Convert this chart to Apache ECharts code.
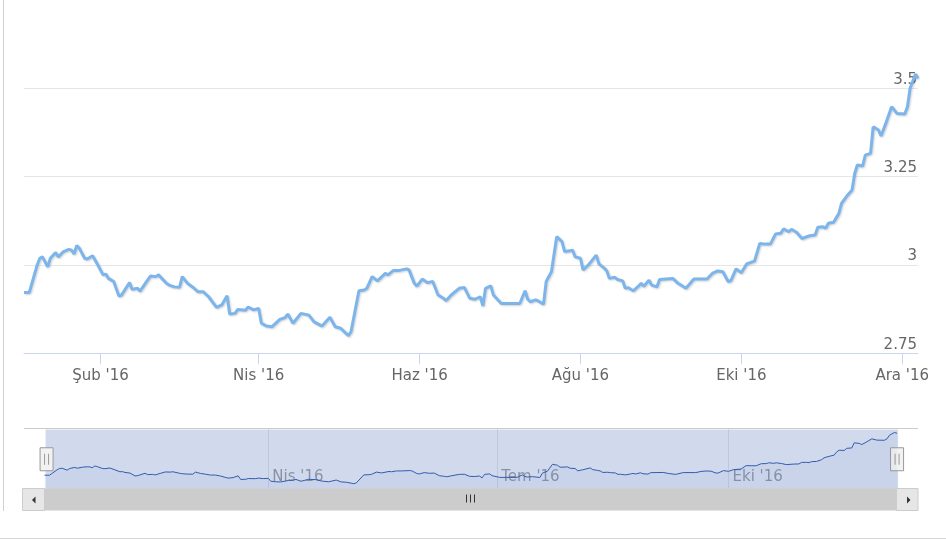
<!DOCTYPE html>
<html><head><meta charset="utf-8">
<script src="https://cdn.jsdelivr.net/npm/echarts@6/dist/echarts.min.js"></script>
<style>
html,body{margin:0;padding:0;background:#fff;}
#chart{position:absolute;left:0;top:0;width:946px;height:543px;}
.frameL{position:absolute;left:3px;top:0;width:1px;height:511px;background:#d0d0d0;}
.frameB{position:absolute;left:0;top:538px;width:946px;height:1px;background:#d6d6d6;}
</style>
</head><body>
<div class="frameL"></div><div class="frameB"></div>
<div id="chart"></div>
<script>
const dates = ['2016-01-03','2016-01-05','2016-01-06','2016-01-08','2016-01-09','2016-01-10','2016-01-12','2016-01-13','2016-01-15','2016-01-16',
'2016-01-18','2016-01-20','2016-01-21','2016-01-22','2016-01-23','2016-01-24','2016-01-26','2016-01-27','2016-01-29','2016-01-31',
'2016-02-02','2016-02-03','2016-02-04','2016-02-06','2016-02-08','2016-02-09','2016-02-12','2016-02-13','2016-02-15','2016-02-16',
'2016-02-18','2016-02-20','2016-02-22','2016-02-23','2016-02-26','2016-02-27','2016-02-29','2016-03-02','2016-03-03','2016-03-05',
'2016-03-07','2016-03-09','2016-03-11','2016-03-13','2016-03-16','2016-03-18','2016-03-20','2016-03-21','2016-03-23','2016-03-24',
'2016-03-27','2016-03-28','2016-03-30','2016-04-01','2016-04-02','2016-04-04','2016-04-06','2016-04-09','2016-04-11','2016-04-12',
'2016-04-14','2016-04-17','2016-04-20','2016-04-22','2016-04-25','2016-04-28','2016-04-30','2016-05-02','2016-05-05','2016-05-06',
'2016-05-09','2016-05-11','2016-05-12','2016-05-14','2016-05-16','2016-05-19','2016-05-20','2016-05-22','2016-05-24','2016-05-27',
'2016-05-28','2016-05-30','2016-05-31','2016-06-02','2016-06-04','2016-06-06','2016-06-08','2016-06-10','2016-06-11','2016-06-13',
'2016-06-16','2016-06-18','2016-06-20','2016-06-22','2016-06-24','2016-06-25','2016-06-26','2016-06-28','2016-06-29','2016-07-01',
'2016-07-02','2016-07-09','2016-07-11','2016-07-12','2016-07-13','2016-07-15','2016-07-16','2016-07-18','2016-07-19','2016-07-21',
'2016-07-23','2016-07-25','2016-07-26','2016-07-28','2016-07-29','2016-07-30','2016-08-01','2016-08-02','2016-08-04','2016-08-07',
'2016-08-08','2016-08-10','2016-08-11','2016-08-12','2016-08-14','2016-08-15','2016-08-17','2016-08-18','2016-08-19','2016-08-21',
'2016-08-23','2016-08-24','2016-08-25','2016-08-27','2016-08-28','2016-08-30','2016-08-31','2016-09-05','2016-09-07','2016-09-10',
'2016-09-13','2016-09-18','2016-09-20','2016-09-22','2016-09-24','2016-09-26','2016-09-27','2016-09-29','2016-10-01','2016-10-03',
'2016-10-06','2016-10-08','2016-10-10','2016-10-12','2016-10-14','2016-10-16','2016-10-17','2016-10-19','2016-10-20','2016-10-22',
'2016-10-24','2016-10-27','2016-10-29','2016-10-30','2016-11-01','2016-11-02','2016-11-03','2016-11-05','2016-11-07','2016-11-08',
'2016-11-10','2016-11-12','2016-11-13','2016-11-14','2016-11-16','2016-11-17','2016-11-19','2016-11-20','2016-11-22','2016-11-23',
'2016-11-25','2016-11-27','2016-11-29','2016-12-02','2016-12-03','2016-12-04','2016-12-06','2016-12-07'];
const values = [2.922,2.922,2.948,3.000,3.019,3.023,2.995,3.019,3.035,3.023,
3.038,3.044,3.042,3.031,3.055,3.047,3.019,3.017,3.026,3.000,
2.972,2.974,2.962,2.953,2.912,2.915,2.950,2.931,2.934,2.926,
2.948,2.969,2.967,2.972,2.948,2.943,2.938,2.937,2.967,2.948,
2.937,2.924,2.924,2.910,2.880,2.887,2.913,2.861,2.863,2.874,
2.872,2.881,2.873,2.877,2.835,2.827,2.825,2.846,2.851,2.861,
2.835,2.863,2.858,2.839,2.827,2.852,2.825,2.821,2.800,2.811,
2.927,2.929,2.934,2.967,2.955,2.976,2.972,2.984,2.984,2.989,
2.986,2.948,2.940,2.960,2.950,2.953,2.915,2.906,2.899,2.915,
2.934,2.936,2.906,2.903,2.910,2.884,2.934,2.941,2.915,2.899,
2.891,2.891,2.927,2.903,2.896,2.901,2.898,2.889,2.953,2.981,
3.080,3.066,3.038,3.040,3.042,3.023,3.019,2.986,3.000,3.028,
3.003,2.991,2.983,2.962,2.965,2.959,2.955,2.934,2.936,2.927,
2.940,2.948,2.940,2.957,2.943,2.938,2.959,2.962,2.948,2.934,
2.960,2.960,2.976,2.983,2.981,2.953,2.955,2.989,2.978,3.003,
3.011,3.061,3.059,3.059,3.088,3.090,3.102,3.094,3.101,3.092,
3.075,3.083,3.085,3.107,3.108,3.104,3.118,3.121,3.146,3.174,
3.195,3.212,3.259,3.283,3.280,3.311,3.316,3.391,3.382,3.365,
3.405,3.448,3.429,3.427,3.448,3.500,3.540,3.528];

const tickDates = ['2016-02-01','2016-04-01','2016-06-01','2016-08-01','2016-10-01','2016-12-01'];
const tickLabels = ["Şub '16","Nis '16","Haz '16","Ağu '16","Eki '16","Ara '16"];
const navTickDates = ['2016-04-01','2016-07-01','2016-10-01'];
const navTickLabels = ["Nis '16","Tem '16","Eki '16"];
const yMin = 2.75, yMax = 3.5, yStep = 0.25;

function toTs(s){ const p = s.split('-').map(Number); return Date.UTC(p[0], p[1]-1, p[2]); }
const seriesData = dates.map((d,i)=>[toTs(d), values[i]]);
const tickTs = tickDates.map(toTs);
const navTickTs = navTickDates.map(toTs);
const xMin = toTs(dates[0]), xMax = toTs(dates[dates.length-1]);
function pick(ts, arr, labels){ let b=0, bd=Infinity; arr.forEach((t,i)=>{const d=Math.abs(t-ts); if(d<bd){bd=d;b=i;}}); return labels[b]; }

const chart = echarts.init(document.getElementById('chart'), null, {renderer:'canvas'});
const font = 'DejaVu Sans';
chart.setOption({
  animation:false,
  textStyle:{fontFamily:font},
  grid:[
    {left:24, right:28, top:88.3, height:265},
    {left:44.5, right:49, top:429, height:59.5}
  ],
  xAxis:[
    {type:'value', gridIndex:0, min:xMin, max:xMax, scale:true,
     axisLine:{show:true, lineStyle:{color:'#ccd6eb', width:1}},
     axisTick:{show:true, length:11, lineStyle:{color:'#ccd6eb'}, customValues:tickTs},
     axisLabel:{customValues:tickTs, color:'#666666', fontSize:15, fontFamily:font, margin:15, hideOverlap:false,
       showMinLabel:true, showMaxLabel:true,
       formatter:(v)=>pick(v, tickTs, tickLabels)},
     splitLine:{show:false}},
    {type:'value', gridIndex:1, min:xMin, max:xMax, scale:true,
     axisLine:{show:false},
     axisTick:{show:false, customValues:navTickTs},
     axisLabel:{customValues:navTickTs, inside:true, color:'#999999', fontSize:15, fontFamily:font, margin:11,
       align:'left', verticalAlign:'middle', padding:[0,0,0,4], hideOverlap:false,
       formatter:(v)=>pick(v, navTickTs, navTickLabels)},
     splitLine:{show:true, lineStyle:{color:'#e6e6e6', width:1}}}
  ],
  yAxis:[
    {type:'value', gridIndex:0, position:'right', min:yMin, max:yMax, interval:yStep,
     axisLine:{show:false}, axisTick:{show:false},
     axisLabel:{inside:true, margin:1, verticalAlign:'bottom', color:'#666666', fontSize:15, fontFamily:font, padding:[0,0,1,0]},
     splitLine:{show:true, lineStyle:{color:'#e6e6e6', width:1}}},
    {type:'value', gridIndex:1, min:2.73, max:3.59, show:false}
  ],
  dataZoom:[{
    type:'slider', xAxisIndex:0, start:0, end:100,
    left:44.5, right:49, top:429, height:59.5,
    backgroundColor:'rgba(0,0,0,0)', borderColor:'rgba(0,0,0,0)', borderRadius:0,
    fillerColor:'rgba(102,133,194,0.3)',
    showDataShadow:false, showDetail:false, brushSelect:false, realtime:false,
    dataBackground:{lineStyle:{opacity:0}, areaStyle:{opacity:0}},
    selectedDataBackground:{lineStyle:{opacity:0}, areaStyle:{opacity:0}},
    handleIcon:'path://M0,0H13V23H0Z M4.5,6V17 M8.5,6V17',
    handleSize:23,
    handleStyle:{color:'#f2f2f2', borderColor:'#999999', borderWidth:1},
    moveHandleSize:0,
    emphasis:{handleStyle:{color:'#f2f2f2', borderColor:'#999999', borderWidth:1}}
  }],
  series:[
    {type:'line', xAxisIndex:0, yAxisIndex:0, data:seriesData, symbol:'none', clip:false,
     lineStyle:{color:'#7cb5ec', width:3, shadowColor:'rgba(0,0,0,0.18)', shadowBlur:2, shadowOffsetX:1, shadowOffsetY:1},
     itemStyle:{color:'#7cb5ec'}, z:3},
    {type:'line', xAxisIndex:1, yAxisIndex:1, data:seriesData, symbol:'none', z:10,
     lineStyle:{color:'#335cad', width:1}, itemStyle:{color:'#335cad'},
     areaStyle:{color:'#335cad', opacity:0.05}}
  ],
  graphic:[
    {type:'line', shape:{x1:24, y1:428.5, x2:918, y2:428.5}, style:{stroke:'#cccccc', lineWidth:1}, z:20},
    {type:'rect', shape:{x:44.5, y:488.5, width:852.5, height:22}, style:{fill:'#cccccc'}, z:20},
    {type:'rect', shape:{x:22.5, y:488.5, width:22, height:22}, style:{fill:'#e6e6e6', stroke:'#cccccc', lineWidth:1}, z:20},
    {type:'rect', shape:{x:896.5, y:488.5, width:21.5, height:22}, style:{fill:'#e6e6e6', stroke:'#cccccc', lineWidth:1}, z:20},
    {type:'polygon', shape:{points:[[32,500],[35.5,496.5],[35.5,503.5]]}, style:{fill:'#333333'}, z:21},
    {type:'polygon', shape:{points:[[910.5,500],[907,496.5],[907,503.5]]}, style:{fill:'#333333'}, z:21},
    {type:'line', shape:{x1:466.5, y1:494.5, x2:466.5, y2:502.5}, style:{stroke:'#333333', lineWidth:1}, z:21},
    {type:'line', shape:{x1:470.5, y1:494.5, x2:470.5, y2:502.5}, style:{stroke:'#333333', lineWidth:1}, z:21},
    {type:'line', shape:{x1:474.5, y1:494.5, x2:474.5, y2:502.5}, style:{stroke:'#333333', lineWidth:1}, z:21}
  ]
});
</script>
</body></html>
